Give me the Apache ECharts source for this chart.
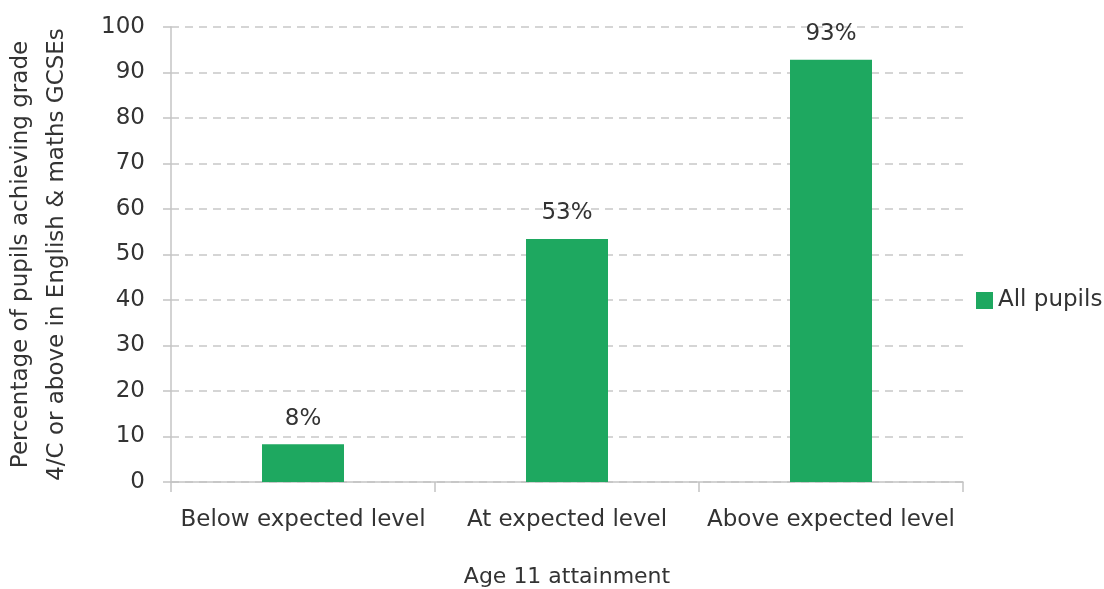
<!DOCTYPE html>
<html><head><meta charset="utf-8">
<script src="https://cdn.jsdelivr.net/npm/echarts@6/dist/echarts.min.js"></script>
<style>html,body{margin:0;padding:0;background:#fff}#c{width:1104px;height:589px}</style>
</head><body><div id="c"></div>
<script>
const categories = ['Below expected level', 'At expected level', 'Above expected level'];
const allPupils = [8.3, 53.4, 92.8];
const yTicks = {min: 0, max: 100, interval: 10};
const seriesName = 'All pupils';
const xTitle = 'Age 11 attainment';
const yTitle = 'Percentage of pupils achieving grade\n4/C or above in English & maths GCSEs';

const font = '"DejaVu Sans", sans-serif';
const txt = '#333333';
const chart = echarts.init(document.getElementById('c'));
chart.setOption({
  animation: false,
  textStyle: {fontFamily: font},
  grid: {left: 171, right: 141, top: 27, bottom: 107, containLabel: false, outerBoundsMode: 'none'},
  legend: {
    data: [seriesName], orient: 'vertical', left: 971, top: 284,
    itemWidth: 17, itemHeight: 17, itemGap: 6, icon: 'rect',
    textStyle: {fontSize: 23, color: txt, fontFamily: font}
  },
  xAxis: {
    type: 'category', data: categories,
    name: xTitle, nameLocation: 'middle', nameGap: 84,
    nameTextStyle: {fontSize: 22, color: txt, fontFamily: font},
    axisLine: {lineStyle: {color: '#c4c4c4', width: 1.5}},
    axisTick: {show: true, length: 10, interval: 0, lineStyle: {color: '#c4c4c4', width: 1.5}},
    axisLabel: {fontSize: 23, color: txt, margin: 27, interval: 0, fontFamily: font}
  },
  yAxis: {
    type: 'value', min: yTicks.min, max: yTicks.max, interval: yTicks.interval,
    name: yTitle, nameLocation: 'middle', nameGap: 96, nameRotate: 90,
    nameTextStyle: {fontSize: 23, color: txt, fontFamily: font, lineHeight: 36},
    axisLine: {show: true, lineStyle: {color: '#c4c4c4', width: 1.5}},
    axisTick: {show: true, length: 8, lineStyle: {color: '#c4c4c4', width: 1.5}},
    axisLabel: {fontSize: 23, color: txt, margin: 26, fontFamily: font},
    splitLine: {lineStyle: {color: '#c8c8c8', width: 1.5, type: [8, 6]}}
  },
  series: [{
    name: seriesName, type: 'bar', data: allPupils, barWidth: 82,
    itemStyle: {color: '#1ea860'},
    label: {show: true, position: 'top', distance: 14, fontSize: 23, color: txt, fontFamily: font,
      formatter: p => Math.round(p.value) + '%'}
  }]
});
</script></body></html>
